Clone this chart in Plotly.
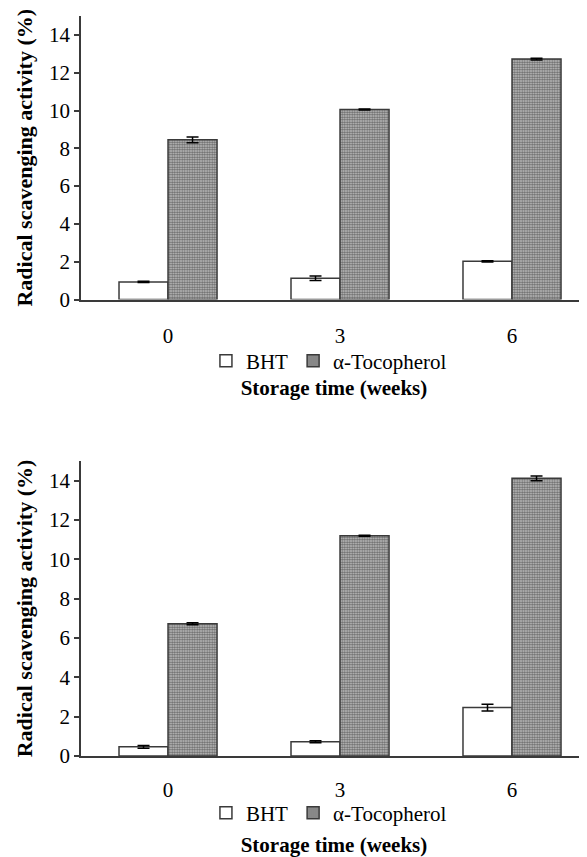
import plotly.graph_objects as go

# ---- data ----
weeks = ["0", "3", "6"]
series_names = ["BHT", "α-Tocopherol"]

bht_top = [0.93, 1.13, 2.02]
bht_top_err = [0.03, 0.12, 0.03]
toco_top = [8.45, 10.05, 12.72]
toco_top_err = [0.15, 0.03, 0.05]

bht_bot = [0.47, 0.73, 2.46]
bht_bot_err = [0.07, 0.05, 0.17]
toco_bot = [6.72, 11.2, 14.12]
toco_bot_err = [0.05, 0.03, 0.12]

y_ticks = [0, 2, 4, 6, 8, 10, 12, 14]
y_title = "Radical scavenging activity (%)"
x_title = "Storage time (weeks)"

FONT = "Liberation Serif, Times New Roman, serif"
LINE = "#3a3a3a"

fig = go.Figure()


def add_pair(bht, bht_err, toco, toco_err, xa, ya, legend):
    fig.add_trace(go.Bar(
        x=weeks, y=bht, name=series_names[0], xaxis=xa, yaxis=ya, legend=legend,
        marker=dict(color="white", line=dict(color=LINE, width=1.5)),
        error_y=dict(type="data", array=bht_err, color="black", thickness=1.5, width=6),
    ))
    fig.add_trace(go.Bar(
        x=weeks, y=toco, name=series_names[1], xaxis=xa, yaxis=ya, legend=legend,
        marker=dict(color="white", line=dict(color=LINE, width=1.5),
                    pattern=dict(shape=".", size=2.5, solidity=0.65,
                                 fgcolor="black", bgcolor="#cfcfcf")),
        error_y=dict(type="data", array=toco_err, color="black", thickness=1.5, width=6),
    ))


add_pair(bht_top, bht_top_err, toco_top, toco_top_err, "x", "y", "legend")
add_pair(bht_bot, bht_bot_err, toco_bot, toco_bot_err, "x2", "y2", "legend2")

W, H = 579.0, 849.0
top_dom = [1 - 291.5 / H, 1 - 8 / H]
bot_dom = [1 - 748 / H, 1 - 453 / H]


def xaxis_cfg(ticklen, standoff):
    return dict(
        type="category", range=[-0.506, 2.436], showline=True, linecolor=LINE, linewidth=1.5,
        ticks="outside", ticklen=ticklen, tickcolor="rgba(0,0,0,0)",
        tickfont=dict(family=FONT, size=21, color="black"),
        showgrid=False, zeroline=False, automargin=False,
        title=dict(text=x_title, font=dict(family=FONT, size=21, color="black", weight="bold"),
                   standoff=standoff),
    )


ycommon = dict(
    range=[0, 15], tickvals=y_ticks, showline=True, linecolor=LINE, linewidth=1.5,
    ticks="outside", ticklen=5, tickcolor=LINE, tickwidth=1.5,
    tickfont=dict(family=FONT, size=21, color="black"),
    showgrid=False, zeroline=False, automargin=False,
    title=dict(text=y_title, font=dict(family=FONT, size=22, color="black", weight="bold"),
               standoff=10),
)

legcommon = dict(
    orientation="h", xanchor="center", yanchor="middle", x=0.49,
    font=dict(family=FONT, size=21, color="black"), bgcolor="rgba(0,0,0,0)",
    itemwidth=30, tracegroupgap=0,
)

fig.update_layout(
    width=W, height=H,
    margin=dict(l=73, r=0, t=0, b=0),
    paper_bgcolor="white", plot_bgcolor="white",
    barmode="group", bargap=0.43, bargroupgap=0,
    xaxis=dict(domain=[0, 1], anchor="y", **xaxis_cfg(17, 33)),
    yaxis=dict(domain=top_dom, anchor="x", **ycommon),
    xaxis2=dict(domain=[0, 1], anchor="y2", **xaxis_cfg(14, 36)),
    yaxis2=dict(domain=bot_dom, anchor="x2", **ycommon),
    legend=dict(y=1 - 353 / H, **legcommon),
    legend2=dict(y=1 - 805 / H, **legcommon),
    showlegend=True,
)

fig.write_html("out.html")
